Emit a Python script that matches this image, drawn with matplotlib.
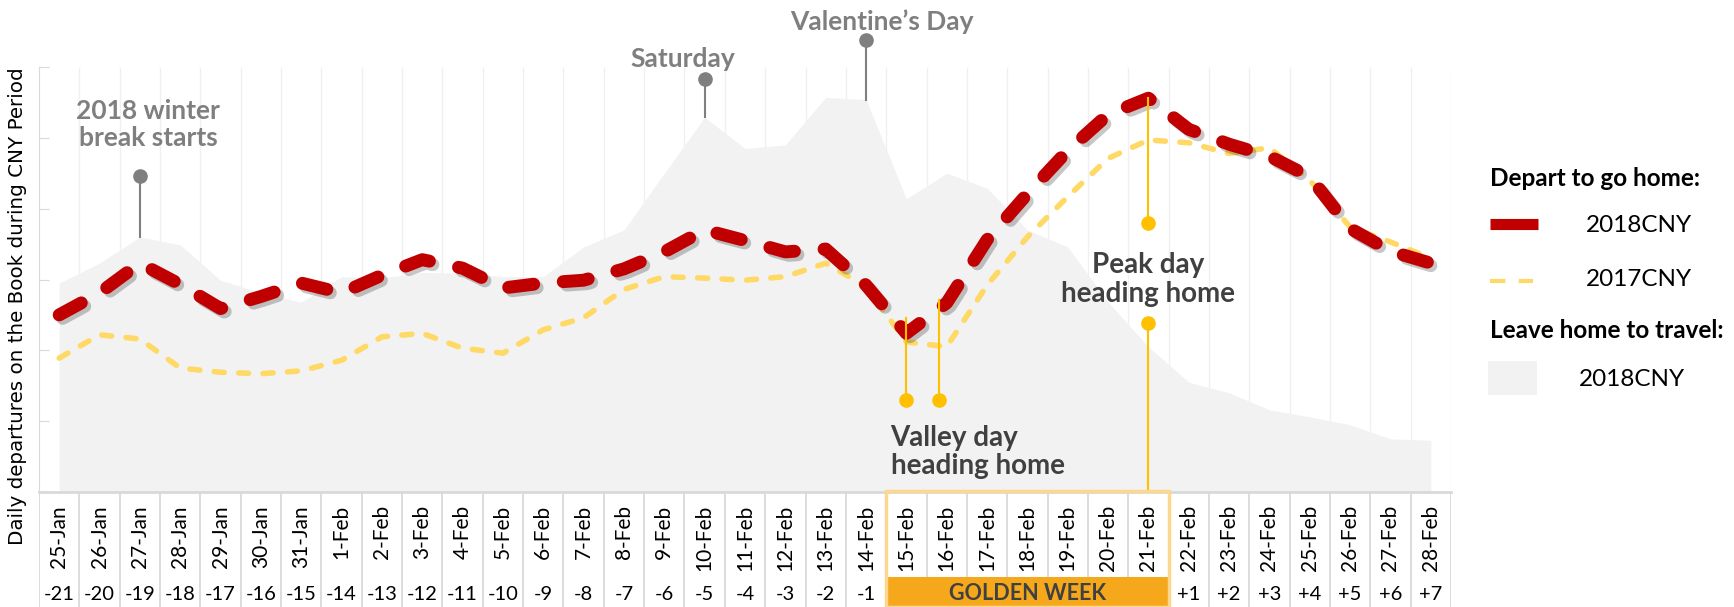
import matplotlib
matplotlib.use('Agg')
import matplotlib.pyplot as plt
import matplotlib.patheffects as pe
from matplotlib.lines import Line2D
from matplotlib.patches import Rectangle
import numpy as np

# Données
dates = ['25-Jan', '26-Jan', '27-Jan', '28-Jan', '29-Jan', '30-Jan', '31-Jan',
         '1-Feb', '2-Feb', '3-Feb', '4-Feb', '5-Feb', '6-Feb', '7-Feb',
         '8-Feb', '9-Feb', '10-Feb', '11-Feb', '12-Feb', '13-Feb', '14-Feb',
         '15-Feb', '16-Feb', '17-Feb', '18-Feb', '19-Feb', '20-Feb', '21-Feb',
         '22-Feb', '23-Feb', '24-Feb', '25-Feb', '26-Feb', '27-Feb', '28-Feb']
offsets = ['-21', '-20', '-19', '-18', '-17', '-16', '-15', '-14', '-13', '-12',
           '-11', '-10', '-9', '-8', '-7', '-6', '-5', '-4', '-3', '-2', '-1',
           '', '', '', '', '', '', '',
           '+1', '+2', '+3', '+4', '+5', '+6', '+7']
golden_week = ['15-Feb', '16-Feb', '17-Feb', '18-Feb', '19-Feb', '20-Feb', '21-Feb']

home_2018 = [2.50, 2.81, 3.23, 2.93, 2.59, 2.76, 2.95, 2.81, 3.06, 3.28, 3.16, 2.88,
             2.95, 2.99, 3.15, 3.39, 3.70, 3.55, 3.39, 3.43, 2.92, 2.24, 2.67, 3.56,
             4.21, 4.82, 5.33, 5.56, 5.12, 4.91, 4.74, 4.45, 3.72, 3.40, 3.23]
home_2017 = [1.89, 2.22, 2.16, 1.75, 1.69, 1.67, 1.71, 1.86, 2.19, 2.24, 2.03, 1.96,
             2.29, 2.46, 2.86, 3.04, 3.02, 2.99, 3.04, 3.23, 2.90, 2.12, 2.05, 2.92,
             3.60, 4.17, 4.71, 4.97, 4.93, 4.78, 4.86, 4.40, 3.74, 3.53, 3.30]
travel_2018 = [2.95, 3.23, 3.60, 3.49, 2.99, 2.81, 2.68, 3.04, 3.02, 3.10, 3.09, 3.04,
               3.04, 3.46, 3.70, 4.50, 5.29, 4.85, 4.90, 5.57, 5.54, 4.14, 4.50, 4.29,
               3.70, 3.46, 2.68, 2.05, 1.55, 1.40, 1.16, 1.06, 0.95, 0.75, 0.73]

RED = '#c00000'
YELLOW = '#ffd966'
GOLD = '#ffc000'
AREA = '#f2f2f2'
GRID = '#d9d9d9'
GREY_TXT = '#7f7f7f'
DARK_TXT = '#404040'
FONT = 'Lato'

W, H = 1734, 607
fig = plt.figure(figsize=(W / 100, H / 100), dpi=100)
x_left, x_right, y_top, y_base = 39, 1451, 67, 492
ax = fig.add_axes([x_left / W, 1 - y_base / H, (x_right - x_left) / W, (y_base - y_top) / H])
tab = fig.add_axes([x_left / W, 0, (x_right - x_left) / W, (H - y_base) / H])

x = np.arange(len(dates))
n = len(dates)

# Zone principale
ax.set_xlim(-0.5, n - 0.5)
ax.set_ylim(0, 6)
for s in ['top', 'right']:
    ax.spines[s].set_visible(False)
ax.spines['left'].set_color(GRID)
ax.spines['bottom'].set_color(GRID)
ax.spines['bottom'].set_linewidth(2)
ax.set_xticks([])
ax.set_yticks(range(7))
ax.tick_params(axis='y', direction='in', length=7, color=GRID, labelleft=False)
ax.vlines(np.arange(n) + 0.5, 0, 6, color='#f0f0f0', lw=1, zorder=0)

ax.fill_between(x, travel_2018, color=AREA, lw=0, zorder=1)
ax.plot(x, home_2017, color=YELLOW, lw=4, dashes=(1.8, 2.6),
        dash_capstyle='round', zorder=2)
ax.plot(x, home_2018, color=RED, lw=9.3, dashes=(1.95, 2.3),
        dash_capstyle='round', dash_joinstyle='round', zorder=3,
        path_effects=[pe.SimpleLineShadow(offset=(2.5, -2.5), shadow_color='k', alpha=0.22),
                      pe.Normal()])

# Annotations grises (sur la zone des voyages)
notes = [('2018 winter\nbreak starts', '27-Jan', 4.46, 2.2, 5.19),
         ('Saturday', '10-Feb', 5.83, 15.45, 6.11),
         ('Valentine\u2019s Day', '14-Feb', 6.38, 20.4, 6.64)]
for label, d, top, tx, ty in notes:
    i = dates.index(d)
    ax.plot([i, i], [travel_2018[i], top], color=GREY_TXT, lw=1.5, clip_on=False, zorder=4)
    ax.plot(i, top, 'o', color=GREY_TXT, ms=9.5, clip_on=False, zorder=4)
    ax.text(tx, ty, label, ha='center', va='center', color=GREY_TXT, fontsize=19,
            fontweight='bold', family=FONT, linespacing=1.12, clip_on=False)

# Jour de pointe
ip = dates.index('21-Feb')
ax.plot([ip, ip], [home_2018[ip], 3.80], color=GOLD, lw=1.5, zorder=4)
ax.plot(ip, 3.80, 'o', color=GOLD, ms=9.5, zorder=4)
ax.plot([ip, ip], [2.39, 0], color=GOLD, lw=1.5, zorder=4)
ax.plot(ip, 2.39, 'o', color=GOLD, ms=9.5, zorder=4)
ax.text(ip, 3.0, 'Peak day\nheading home', ha='center', va='center', color=DARK_TXT,
        fontsize=20, fontweight='bold', family=FONT, linespacing=1.1)

# Jour creux
iv = dates.index('15-Feb')
for xv, ytop in [(iv, 2.45), (iv + 0.8, 2.71)]:
    ax.plot([xv, xv], [ytop, 1.30], color=GOLD, lw=1.5, zorder=4)
    ax.plot(xv, 1.30, 'o', color=GOLD, ms=9.5, zorder=4)
ax.text(iv - 0.39, 0.56, 'Valley day\nheading home', ha='left', va='center', color=DARK_TXT,
        fontsize=20, fontweight='bold', family=FONT, linespacing=1.1)

# Axe des x en forme de tableau
tab_h = H - y_base
tab.set_xlim(-0.5, n - 0.5)
tab.set_ylim(0, tab_h)
tab.axis('off')
tab.vlines(np.arange(n + 1) - 0.5, 0, tab_h, color=GRID, lw=1.3)
for i, (d, o) in enumerate(zip(dates, offsets)):
    tab.text(i, tab_h - 13, d, rotation=90, ha='center', va='top', fontsize=15, family=FONT)
    if o:
        tab.text(i, 12, o, ha='center', va='center', fontsize=14.5, family=FONT)
g0, g1 = dates.index(golden_week[0]), dates.index(golden_week[-1])
tab.add_patch(Rectangle((g0 - 0.5, 0), g1 - g0 + 1, 30, color='#f6a81d', lw=0, zorder=3))
tab.add_patch(Rectangle((g0 - 0.5, 0), g1 - g0 + 1, tab_h + 1, fill=False,
                        edgecolor='#fcd790', lw=2.5, zorder=4, clip_on=False))
tab.text((g0 + g1) / 2, 14, 'GOLDEN WEEK', ha='center', va='center', color=DARK_TXT,
         fontsize=15.5, fontweight='bold', family=FONT, zorder=5)

# Titre de l'axe y
fig.text(18 / W, 1 - 306 / H, 'Daily departures on the Book during CNY Period', rotation=90,
         ha='center', va='center', fontsize=14.3, family='DejaVu Sans')

# Légende faite à la main
def fx(px):
    return px / W

def fy(py):
    return 1 - py / H

fig.text(fx(1490), fy(178), 'Depart to go home:', ha='left', va='center', fontsize=17.5,
         fontweight='bold', family=FONT)
fig.add_artist(Line2D([fx(1490), fx(1538)], [fy(224)] * 2, color=RED, lw=8,
                      solid_capstyle='butt'))
fig.text(fx(1586), fy(225), '2018CNY', ha='left', va='center', fontsize=17.5, family=FONT)
fig.add_artist(Line2D([fx(1490), fx(1533)], [fy(281)] * 2, color=YELLOW, lw=3,
                      dashes=(3.7, 3.2), dash_capstyle='butt'))
fig.text(fx(1586), fy(280), '2017CNY', ha='left', va='center', fontsize=17.5, family=FONT)
fig.text(fx(1490), fy(330), 'Leave home to travel:', ha='left', va='center', fontsize=17.5,
         fontweight='bold', family=FONT)
fig.add_artist(Rectangle((fx(1488), fy(395)), 49 / W, 34 / H, color=AREA, lw=0,
                         transform=fig.transFigure))
fig.text(fx(1579), fy(380), '2018CNY', ha='left', va='center', fontsize=17.5, family=FONT)

fig.savefig('out.png', dpi=100)
